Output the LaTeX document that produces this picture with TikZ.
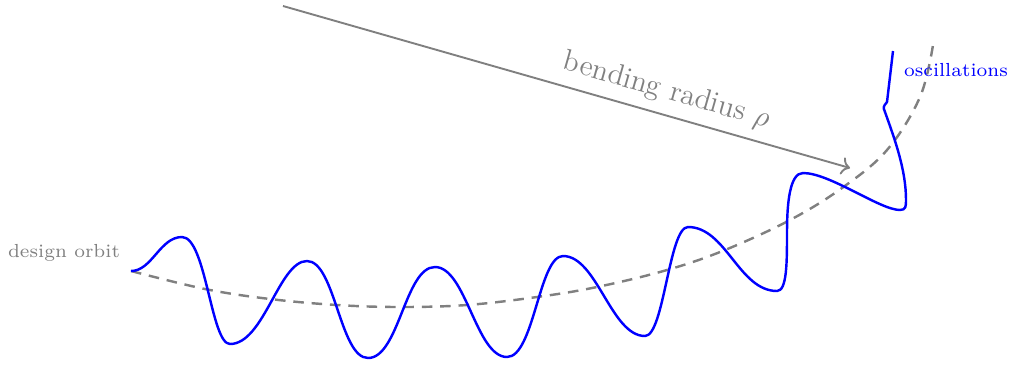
\documentclass[tikz,border=0pt]{standalone}
\usepackage{amsmath}
\usepackage{xcolor}
\usepackage{tikz}
\usetikzlibrary{arrows.meta, positioning, calc}

\begin{document}
\begin{tikzpicture}[
      x=0.37pt, y=-0.37pt,
      orbit/.style = {gray, line width=0.9pt, dash pattern=on 3.9pt off 2.9pt},
      wiggle/.style= {blue, line width=0.9pt},
      radius/.style= {->, gray, line width=0.7pt},
      lbl/.style   = {font=\scriptsize}
    ]
    \useasboundingbox (0,0) rectangle (1016,370);

    % design orbit
    \draw[orbit] plot[smooth, tension=0.6] coordinates {
      (131,271) (205,289) (270,299) (337,305) (400,307) (467,305)
      (537,297) (597,287) (667,270) (725,250) (790,220) (842,188)
      (887,150) (920,97) (933,45)};

    % oscillating trajectory
    \draw[wiggle] (131,271) .. controls (152,271) and (160,237) .. (182,237)
      .. controls +(24,0) and +(-19,0) .. (230,344)
      .. controls +(34,0) and +(-28,0) .. (307,261)
      .. controls +(28,0) and +(-28,0) .. (368,358)
      .. controls +(31,0) and +(-30,0) .. (435,267)
      .. controls +(31,0) and +(-31,0) .. (507,357)
      .. controls +(27,0) and +(-24,0) .. (563,256)
      .. controls +(34,0) and +(-34,0) .. (645,336)
      .. controls +(19,0) and +(-19,0) .. (688,227)
      .. controls +(38,0) and +(-38,0) .. (777,291)
      .. controls +(10,0) and +(0,30) .. (787,232)
      .. controls +(0,-30) and +(-13,0) .. (803,173)
      .. controls (830,173) and (880,210) .. (900,210)
      .. controls (906,210) and (906,206) .. (906,200)
      .. controls (906,170) and (895,140) .. (885,112)
      .. controls (883,107) .. (887,102) -- (893,51);

    \coordinate (centre) at (283,6);
    \coordinate (tip)    at (850,168);
    \draw[radius] (centre) -- node[pos=0.665, above, sloped, font=\fontsize{11}{13}\selectfont]{bending radius $\rho$} (tip);

    \node[lbl, gray] (orbitlbl) at (64,253) {design orbit};
    \node[lbl, blue] (osclbl)   at (956,70) {oscillations};
  \end{tikzpicture}
\end{document}
